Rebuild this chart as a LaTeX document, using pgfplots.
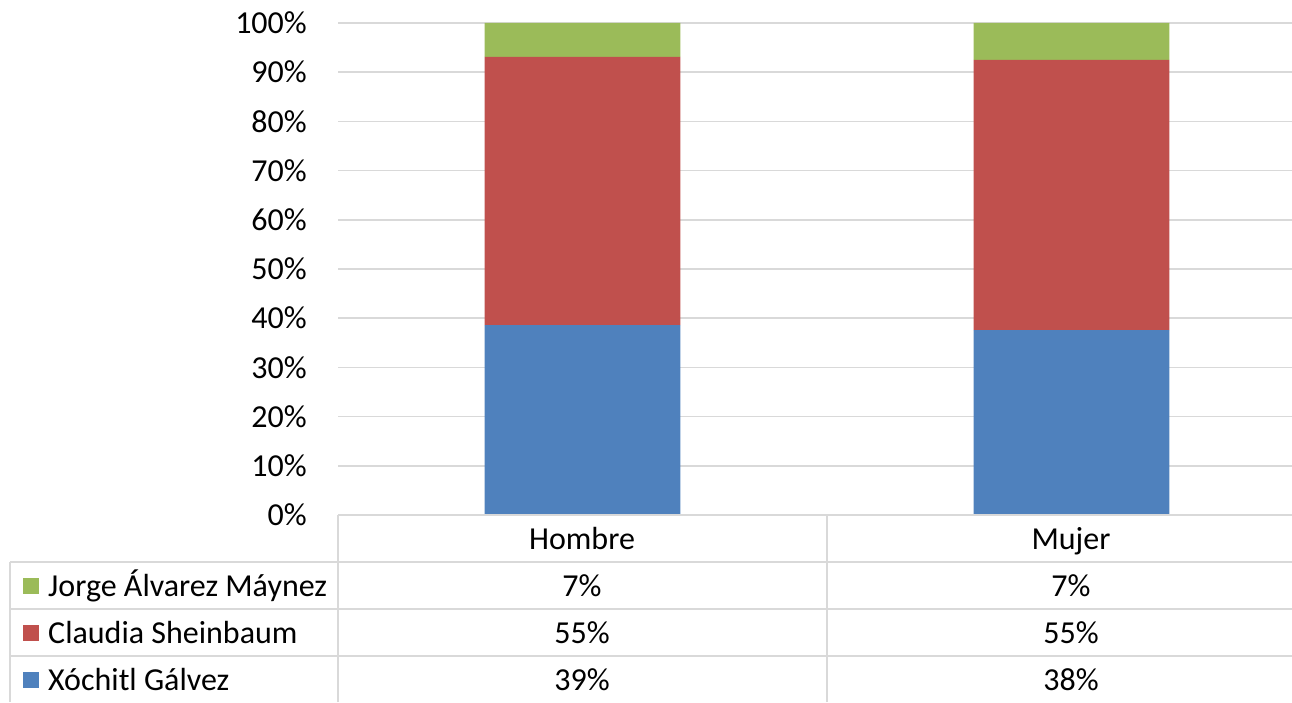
\documentclass[border=0pt]{standalone}
\usepackage{fontspec}
\setmainfont{Carlito}
\usepackage{pgfplots}
\pgfplotsset{compat=1.18}
\definecolor{cblue}{HTML}{4F81BD}
\definecolor{cred}{HTML}{C0504D}
\definecolor{cgreen}{HTML}{9BBB59}
\definecolor{gridgray}{HTML}{D9D9D9}
\begin{document}
\fontsize{32}{38}\selectfont
\begin{tikzpicture}[x=1pt,y=1pt]
\path[use as bounding box, clip] (0pt,0pt) rectangle (1292pt,702pt);
\begin{axis}[
  at={(338pt,187pt)}, anchor=south west,
  scale only axis, width=978pt, height=492pt,
  xmin=-0.5, xmax=1.5, ymin=0, ymax=100,
  ybar stacked, bar width=0.4,
  xtick=\empty,
  ytick={0,10,...,100},
  yticklabel={\pgfmathprintnumber{\tick}\%},
  /pgf/number format/assume math mode=true,
  yticklabel style={anchor=east, inner sep=0pt, xshift=-31pt, font=\fontsize{32}{38}\selectfont},
  ymajorgrids, grid style={draw=gridgray, line width=1.5pt},
  axis line style={draw=none},
  major tick length=0pt,
  clip=false,
]
\addplot[fill=cblue, draw=none] coordinates {(0,38.6) (1,37.6)};
\addplot[fill=cred, draw=none] coordinates {(0,54.5) (1,54.9)};
\addplot[fill=cgreen, draw=none] coordinates {(0,6.9) (1,7.5)};
\end{axis}
% data table
\begin{scope}[gridgray, line width=1.5pt]
\draw (338,187) -- (1292,187);
\draw (10,140) -- (1292,140);
\draw (10,93) -- (1292,93);
\draw (10,46) -- (1292,46);
\draw (10,0) -- (10,140);
\draw (338,0) -- (338,187);
\draw (827,0) -- (827,187);
\end{scope}
\begin{scope}[every node/.style={anchor=base, inner sep=0pt}]
\node at (582,153) {Hombre};
\node at (1071,153) {Mujer};
\node at (582,106) {7\%};
\node at (1071,106) {7\%};
\node at (582,59) {55\%};
\node at (1071,59) {55\%};
\node at (582,12) {39\%};
\node at (1071,12) {38\%};
\node[anchor=base west] at (48,106) {Jorge Álvarez Máynez};
\node[anchor=base west] at (48,59) {Claudia Sheinbaum};
\node[anchor=base west] at (48,12) {Xóchitl Gálvez};
\end{scope}
\fill[cgreen] (23,108) rectangle (39,124);
\fill[cred] (23,61) rectangle (39,77);
\fill[cblue] (23,14) rectangle (39,30);
\end{tikzpicture}
\end{document}
